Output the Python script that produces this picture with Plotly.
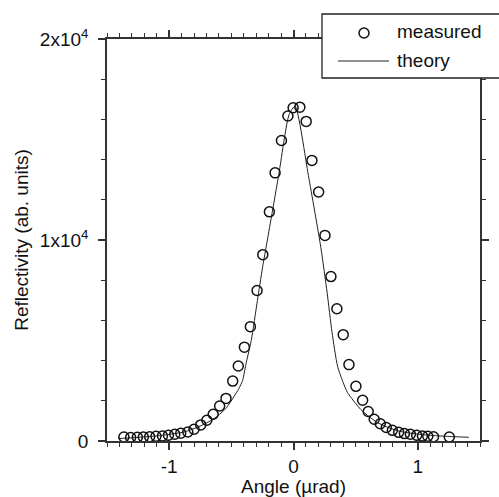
import plotly.graph_objects as go

# Measured reflectivity curve (angle in microradians, counts)
angle_measured = [-1.364, -1.310, -1.256, -1.208, -1.157, -1.106, -1.054, -1.006,
                  -0.955, -0.907, -0.850, -0.800, -0.746, -0.697, -0.646, -0.594,
                  -0.543, -0.489, -0.444, -0.395, -0.347, -0.293, -0.247, -0.194,
                  -0.148, -0.097, -0.045, -0.003, 0.051, 0.102, 0.148, 0.202,
                  0.253, 0.301, 0.349, 0.400, 0.446, 0.502, 0.556, 0.601,
                  0.649, 0.698, 0.746, 0.795, 0.846, 0.892, 0.940, 0.991,
                  1.037, 1.080, 1.126, 1.253]
refl_measured = [200, 170, 185, 200, 210, 235, 250, 285,
                 335, 385, 450, 585, 800, 1030, 1330, 1740,
                 2120, 2980, 3730, 4670, 5690, 7490, 9270, 11400,
                 13340, 14950, 16170, 16580, 16610, 15900, 13960, 12390,
                 10230, 8180, 6580, 5290, 3800, 2720, 2030, 1470,
                 1080, 860, 670, 530, 430, 370, 335, 285,
                 250, 235, 210, 200]

# Calculated rocking curve
angle_theory = [-1.41, -1.28, -1.14, -1.01, -0.88, -0.75, -0.68, -0.61, -0.54,
                -0.48, -0.44, -0.41, -0.38, -0.34, -0.29, -0.25, -0.21, -0.12,
                -0.035, 0.013, 0.12, 0.22, 0.27, 0.31, 0.354, 0.40, 0.435,
                0.54, 0.61, 0.676, 0.77, 0.865, 1.0, 1.13, 1.27, 1.41]
refl_theory = [120, 170, 230, 320, 450, 745, 960, 1245, 1650,
               2200, 2600, 3000, 3900, 5000, 7000, 8600, 10000, 13200,
               16250, 16660, 13200, 9620, 7400, 5400, 3730, 2900, 2400,
               1575, 1200, 915, 650, 467, 340, 270, 220, 185]

x_tick_vals = [-1, 0, 1]
x_tick_text = ["-1", "0", "1"]
y_tick_vals = [0, 10000, 20000]
y_tick_text = ["0", "1x10<sup>4</sup>", "2x10<sup>4</sup>"]
legend_labels = ["measured", "theory"]

FONT = "Liberation Sans, Arial, sans-serif"
AXIS_COLOR = "#333333"
W, H = 499, 497
ML, MR, MT, MB = 107, 19, 39, 56
PW, PH = W - ML - MR, H - MT - MB


def px_x(px):
    return (px - ML) / PW


def px_y(py):
    return (H - MB - py) / PH


fig = go.Figure()
fig.add_trace(go.Scatter(
    x=angle_theory, y=refl_theory, mode="lines", name=legend_labels[1],
    line=dict(color="#222222", width=1, shape="spline", smoothing=0.6),
    showlegend=False,
))
fig.add_trace(go.Scatter(
    x=angle_measured, y=refl_measured, mode="markers", name=legend_labels[0],
    marker=dict(symbol="circle-open", size=10, color="#111111",
                line=dict(width=1.5, color="#111111")),
    showlegend=False,
))

axis_common = dict(
    showline=True, linecolor=AXIS_COLOR, linewidth=1.5,
    ticks="outside", ticklen=7, tickwidth=1.5, tickcolor=AXIS_COLOR,
    mirror="ticks", showgrid=False, zeroline=False,
    tickfont=dict(family=FONT, size=19, color="#111111"),
)

fig.update_xaxes(
    range=[-1.5, 1.5], tickmode="array", tickvals=x_tick_vals, ticktext=x_tick_text,
    minor=dict(tickmode="linear", tick0=0, dtick=0.1, ticks="outside", ticklen=4,
               tickwidth=1.2, tickcolor=AXIS_COLOR),
    title=dict(text="Angle (µrad)", font=dict(family=FONT, size=19, color="#111111"),
               standoff=2),
    **axis_common,
)
fig.update_yaxes(
    range=[0, 20000], tickmode="array", tickvals=y_tick_vals, ticktext=y_tick_text,
    minor=dict(tickmode="linear", tick0=0, dtick=2000, ticks="outside", ticklen=4,
               tickwidth=1.2, tickcolor=AXIS_COLOR),
    ticklabelstandoff=6,
    title=dict(text="Reflectivity (ab. units)",
               font=dict(family=FONT, size=19, color="#111111"), standoff=6),
    **axis_common,
)

# Legend box in the upper right corner, running off the edge of the figure
legend_shapes = [
    dict(type="rect", xref="paper", yref="paper", layer="above",
         x0=px_x(322), x1=px_x(W + 20), y0=px_y(78), y1=px_y(14),
         line=dict(color="#222222", width=1.3), fillcolor="white"),
    dict(type="circle", xref="paper", yref="paper", layer="above",
         xsizemode="pixel", ysizemode="pixel",
         xanchor=px_x(364), yanchor=px_y(33), x0=-5, x1=5, y0=-5, y1=5,
         line=dict(color="#111111", width=1.5)),
    dict(type="line", xref="paper", yref="paper", layer="above",
         x0=px_x(338), x1=px_x(389), y0=px_y(61), y1=px_y(61),
         line=dict(color="#222222", width=1)),
]
legend_annotations = [
    dict(text=legend_labels[0], xref="paper", yref="paper", x=px_x(395), y=px_y(32),
         xanchor="left", yanchor="middle", showarrow=False,
         font=dict(family=FONT, size=19, color="#111111")),
    dict(text=legend_labels[1], xref="paper", yref="paper", x=px_x(395), y=px_y(60),
         xanchor="left", yanchor="middle", showarrow=False,
         font=dict(family=FONT, size=19, color="#111111")),
]

fig.update_layout(
    width=W, height=H,
    margin=dict(l=ML, r=MR, t=MT, b=MB, autoexpand=False),
    paper_bgcolor="white", plot_bgcolor="white",
    showlegend=False,
    shapes=legend_shapes, annotations=legend_annotations,
    font=dict(family=FONT),
)

fig.write_html("out.html")
